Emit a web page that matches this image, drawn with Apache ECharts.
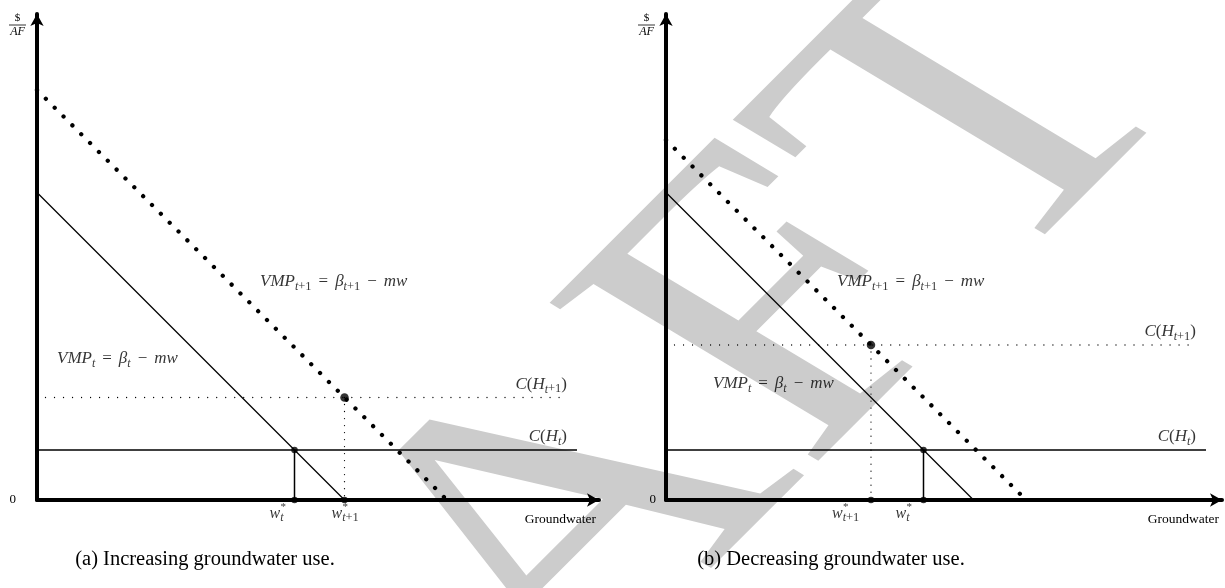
<!DOCTYPE html>
<html><head><meta charset="utf-8">
<script src="https://cdn.jsdelivr.net/npm/echarts@6/dist/echarts.min.js"></script>
<style>html,body{margin:0;padding:0;background:#fff}#c{width:1225px;height:588px}</style>
</head><body><div id="c"></div>
<script>
// ---- data (units: $/AF and AF, arbitrary scale) ----
const slopeM = 1;                 // m, slope of VMP curves
const interceptA = [6.15, 8.2];   // panel (a): beta_t, beta_{t+1}
const costA = [1.0, 2.05];        // panel (a): C(H_t), C(H_{t+1})
const interceptB = [6.15, 7.2];   // panel (b): beta_t, beta_{t+1}
const costB = [1.0, 3.1];         // panel (b): C(H_t), C(H_{t+1})
const captionTexts = ['(a) Increasing groundwater use.', '(b) Decreasing groundwater use.'];
const xAxisTitle = 'Groundwater';
const yAxisUnit = ['$', 'AF'];
const originLabel = '0';
const watermarkText = 'DRAFT';

// ---- layout ----
const PX = 50;                    // pixels per unit
const grids = [
  {left: 37, top: 14, width: 562, height: 486},
  {left: 666, top: 14, width: 556, height: 486}
];
const FONT = '"Liberation Serif", "Times New Roman", serif';
const rich = {
  it:  {fontFamily: FONT, fontStyle: 'italic', fontSize: 17, lineHeight: 22, color: '#000'},
  rm:  {fontFamily: FONT, fontSize: 17, lineHeight: 22, color: '#000'},
  op:  {fontFamily: FONT, fontSize: 17, lineHeight: 22, color: '#000', padding: [0, 7, 0, 7]},
  sbi: {fontFamily: FONT, fontStyle: 'italic', fontSize: 12, lineHeight: 15, verticalAlign: 'bottom', color: '#000'},
  sbr: {fontFamily: FONT, fontSize: 12.5, lineHeight: 15, verticalAlign: 'bottom', color: '#000'},
  wi:  {fontFamily: FONT, fontStyle: 'italic', fontSize: 16, lineHeight: 20, color: '#000'},
  st:  {fontFamily: FONT, fontSize: 11, lineHeight: 12, color: '#000'}
};
const txtVMPt  = '{it|VMP}{sbi|t}{op|=}{it|β}{sbi|t}{op|−}{it|mw}';
const txtVMPt1 = '{it|VMP}{sbi|t}{sbr|+1}{op|=}{it|β}{sbi|t}{sbr|+1}{op|−}{it|mw}';
const txtCt  = '{it|C}{rm|(}{it|H}{sbi|t}{rm|)}';
const txtCt1 = '{it|C}{rm|(}{it|H}{sbi|t}{sbr|+1}{rm|)}';
const txtWt  = '{wi|w}{sbi|t}';
const txtWt1 = '{wi|w}{sbi|t}{sbr|+1}';

function lbl(x, y, text, align, dx, dy) {
  return {value: [x, y], label: {show: true, formatter: text, position: 'inside',
    align: align, verticalAlign: 'middle', offset: [dx || 0, dy || 0], rich: rich}};
}

function panelSeries(g, beta, cost, place) {
  const wT = (beta[0] - cost[0]) / slopeM;
  const wT1 = (beta[1] - cost[1]) / slopeM;
  const ax = {xAxisIndex: g, yAxisIndex: g};
  const line = (data, ls) => Object.assign({type: 'line', data: data, symbol: 'none', silent: true,
    animation: false, z: 3, lineStyle: Object.assign({color: '#000'}, ls)}, ax);
  return [
    line([[0, beta[0]], [beta[0] / slopeM, 0]], {width: 1.3}),
    line([[0, beta[1]], [beta[1] / slopeM, 0]], {width: 4.3, type: [0.01, 12.5], cap: 'round'}),
    line([[0, cost[0]], [10.8, cost[0]]], {width: 1.5}),
    line([[0.17, cost[1]], [10.6, cost[1]]], {width: 1.3, type: [0.01, 9], cap: 'round'}),
    line([[wT, cost[0]], [wT, 0]], {width: 1.5}),
    line([[wT1, cost[1]], [wT1, 0]], {width: 1.3, type: [0.01, 7], cap: 'round'}),
    Object.assign({type: 'scatter', silent: true, animation: false, z: 4, itemStyle: {color: '#000'},
      symbolSize: 6.5, data: [[wT, cost[0]], [wT, 0], [wT1, 0]]}, ax),
    Object.assign({type: 'scatter', silent: true, animation: false, z: 4, itemStyle: {color: '#000'},
      symbolSize: 8.5, data: [[wT1, cost[1]]]}, ax),
    Object.assign({type: 'scatter', silent: true, animation: false, z: 5, symbolSize: 0,
      data: [
        lbl(place.vmpT[0], place.vmpT[1], txtVMPt, 'left'),
        lbl(place.vmpT1[0], place.vmpT1[1], txtVMPt1, 'left'),
        lbl(10.6, cost[0] + 0.26, txtCt, 'right'),
        lbl(10.6, cost[1] + 0.26, txtCt1, 'right'),
        lbl(wT, 0, txtWt, 'left', place.wTdx, 14),
        lbl(wT, 0, '{st|*}', 'left', place.wTdx + 11, 7),
        lbl(wT1, 0, txtWt1, 'left', place.wT1dx, 14),
        lbl(wT1, 0, '{st|*}', 'left', place.wT1dx + 11, 7)
      ]}, ax)
  ];
}

const xAxes = grids.map((gr, i) => ({
  type: 'value', gridIndex: i, min: 0, max: gr.width / PX,
  axisLine: {show: true, onZero: false, lineStyle: {color: '#000', width: 4},
    symbol: ['none', 'arrow'], symbolSize: [10, 12]},
  axisTick: {show: false}, axisLabel: {show: false}, splitLine: {show: false},
  name: xAxisTitle, nameLocation: 'end', nameGap: -3,
  nameTextStyle: {fontFamily: FONT, fontSize: 13.5, color: '#000', align: 'right',
    verticalAlign: 'top', padding: [12, 0, 0, 0]}
}));
const yAxes = grids.map((gr, i) => ({
  type: 'value', gridIndex: i, min: 0, max: gr.height / PX, interval: 1,
  axisLine: {show: true, onZero: false, lineStyle: {color: '#000', width: 4},
    symbol: ['none', 'arrow'], symbolSize: [10, 12]},
  axisTick: {show: false}, splitLine: {show: false},
  axisLabel: {show: true, margin: i === 0 ? 21 : 10, showMaxLabel: false,
    fontFamily: FONT, fontSize: 13, color: '#000',
    formatter: v => (v === 0 ? originLabel : '')}
}));

const series = [].concat(
  panelSeries(0, interceptA, costA, {vmpT: [0.4, 2.82], vmpT1: [4.46, 4.36], wTdx: -25, wT1dx: -13}),
  panelSeries(1, interceptB, costB, {vmpT: [0.94, 2.32], vmpT1: [3.42, 4.36], wTdx: -28, wT1dx: -39})
);

// watermark: sheared diagonal text; baseline direction b, glyph "down" direction d
function watermark() {
  const bx = 0.707, by = -0.707, dx = 0.857, dy = 0.515;
  const a = bx, b = dx, c = by, d = dy;
  const E = (a + d) / 2, F = (a - d) / 2, G = (c + b) / 2, H = (c - b) / 2;
  const Q = Math.hypot(E, H), R = Math.hypot(F, G);
  const s1 = Q + R, s2 = Q - R;
  const a1 = Math.atan2(G, F), a2 = Math.atan2(H, E);
  const th = (a2 - a1) / 2, ph = (a2 + a1) / 2;
  return {type: 'group', id: 'wm', x: 541, y: 567, rotation: -ph, silent: true,
    children: [{type: 'group', scaleX: s1, scaleY: s2, children: [
      {type: 'text', z: -10, rotation: -th, style: {text: watermarkText,
        font: '475px "Liberation Serif"', fill: '#cccccc', align: 'center', verticalAlign: 'middle'}}
    ]}]};
}

const chart = echarts.init(document.getElementById('c'));
chart.setOption({
  animation: false,
  backgroundColor: '#fff',
  grid: grids.map(g => Object.assign({containLabel: false}, g)),
  xAxis: xAxes, yAxis: yAxes, series: series,
  graphic: [
    watermark(),
    {type: 'text', id: 'capA', x: 205, y: 560, style: {text: captionTexts[0], font: '20.5px "Liberation Serif"', fill: '#000', align: 'center', verticalAlign: 'middle'}},
    {type: 'text', id: 'capB', x: 831, y: 560, style: {text: captionTexts[1], font: '20.5px "Liberation Serif"', fill: '#000', align: 'center', verticalAlign: 'middle'}}
  ]
});

// unit fraction $/AF at the top of each y axis
const extra = [];
grids.forEach((g, i) => {
  const top = chart.convertToPixel({gridIndex: i}, [0, g.height / PX]);
  const cx = top[0] - 19.5, by = top[1] + 11;
  extra.push(
    {type: 'text', id: 'num' + i, x: cx, y: by - 6.5, style: {text: yAxisUnit[0], font: '11px "Liberation Serif"', fill: '#000', align: 'center', verticalAlign: 'middle'}},
    {type: 'line', id: 'bar' + i, shape: {x1: cx - 8.5, y1: by, x2: cx + 8.5, y2: by}, style: {stroke: '#000', lineWidth: 0.8}},
    {type: 'text', id: 'den' + i, x: cx, y: by + 6.5, style: {text: yAxisUnit[1], font: 'italic 12px "Liberation Serif"', fill: '#000', align: 'center', verticalAlign: 'middle'}}
  );
});
chart.setOption({graphic: extra});
</script>
</body></html>
